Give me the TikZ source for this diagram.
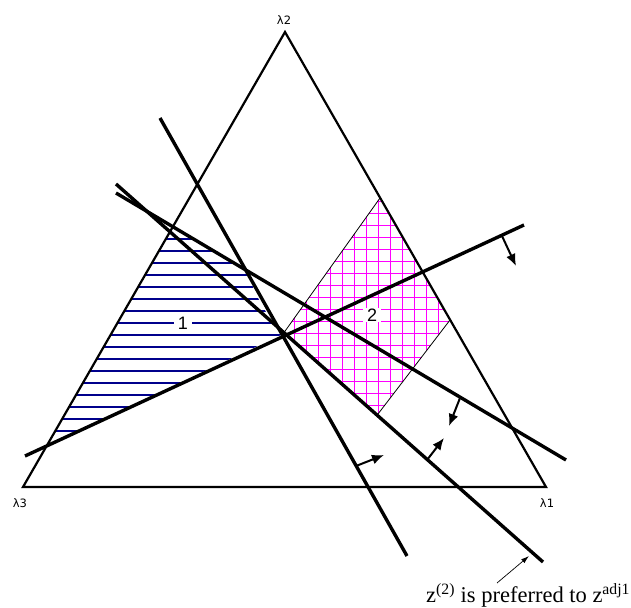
\documentclass[tikz,border=0pt]{standalone}
\usepackage{fontspec}
\setmainfont{Liberation Serif}
\newfontfamily\lamfont{DejaVu Sans}
\newfontfamily\numfont{Liberation Sans}
\usetikzlibrary{arrows.meta}
\definecolor{hatchblue}{RGB}{0,0,140}
\definecolor{gridpink}{RGB}{255,0,255}

\begin{document}
\begin{tikzpicture}[
  x=1pt, y=-1pt,
  edge/.style={line width=2.2pt, line join=miter},
  cut/.style={line width=3.4pt},
  rim/.style={line width=0.8pt},
  push/.style={-{Latex[length=12pt,width=10pt]}, line width=2pt},
  note/.style={-{Latex[length=8pt,width=5pt]}, line width=0.7pt},
  hatch/.style={hatchblue, line width=1.2pt},
  grid2/.style={gridpink, line width=1pt},
  vertexlabel/.style={font=\lamfont\fontsize{11.5}{13}\selectfont, inner sep=0pt},
  regionlabel/.style={fill=white, font=\numfont\fontsize{18}{20}\selectfont, inner xsep=4pt, inner ysep=1pt}
]
\useasboundingbox (0,0) rectangle (631,607);

\coordinate (top) at (285,32);
\coordinate (left) at (23,487);
\coordinate (right) at (546,487);
\coordinate (p) at (283,334);

\coordinate (a1) at (160,118);
\coordinate (a2) at (407,556);
\coordinate (b1) at (116,193);
\coordinate (b2) at (566,460);
\coordinate (c1) at (116,184);
\coordinate (c2) at (543,562);
\coordinate (d1) at (25,456);
\coordinate (d2) at (524,225);

\coordinate (t) at (380,198);
\coordinate (r) at (450,320);
\coordinate (bm) at (378,414);

\begin{scope}
  \clip (173,227) -- (213,251) -- (232,262) -- (246,273) -- (253,287) -- (259,300)
    -- (266,312) -- (274,324) -- (p) -- (46.7,446) -- cycle;
  \foreach \y in {239,251,...,431}
    \draw[hatch] (0,\y) -- (300,\y);
\end{scope}

\begin{scope}
  \clip (p) -- (t) -- (r) -- (bm) -- cycle;
  \foreach \x in {282,294,...,450}
    \draw[grid2] (\x,180) -- (\x,420);
  \foreach \y in {189,201,...,417}
    \draw[grid2] (270,\y) -- (460,\y);
\end{scope}
\draw[rim] (p) -- (t) (r) -- (bm);

\node[regionlabel] (one) at (183,323) {1};
\node[regionlabel] (two) at (372,315) {2};

\draw[edge] (top) -- (right) -- (left) -- cycle;

\draw[cut] (a1) -- (a2);
\draw[cut] (b1) -- (b2);
\draw[cut] (c1) -- (c2);
\draw[cut] (d1) -- (d2);

\coordinate (pa1) at (356,466); \coordinate (pa2) at (384,455);
\coordinate (pb1) at (460,398); \coordinate (pb2) at (449,426);
\coordinate (pc1) at (427,460); \coordinate (pc2) at (444,438);
\coordinate (pd1) at (502,236); \coordinate (pd2) at (516,266);
\draw[push] (pa1) -- (pa2);
\draw[push] (pb1) -- (pb2);
\draw[push] (pc1) -- (pc2);
\draw[push] (pd1) -- (pd2);

\node[vertexlabel] (lam2) at (284,20) {λ2};
\node[vertexlabel] (lam3) at (20,503) {λ3};
\node[vertexlabel] (lam1) at (547,503) {λ1};

\node[anchor=base west, inner sep=0pt, font=\fontsize{22.5}{25}\selectfont] (pref) at (426,602)
  {z\textsuperscript{(2)} is preferred to z\textsuperscript{adj1}};
\coordinate (tail) at (497,583);
\coordinate (head) at (529,556);
\draw[note] (tail) -- (head);
\end{tikzpicture}
\end{document}
